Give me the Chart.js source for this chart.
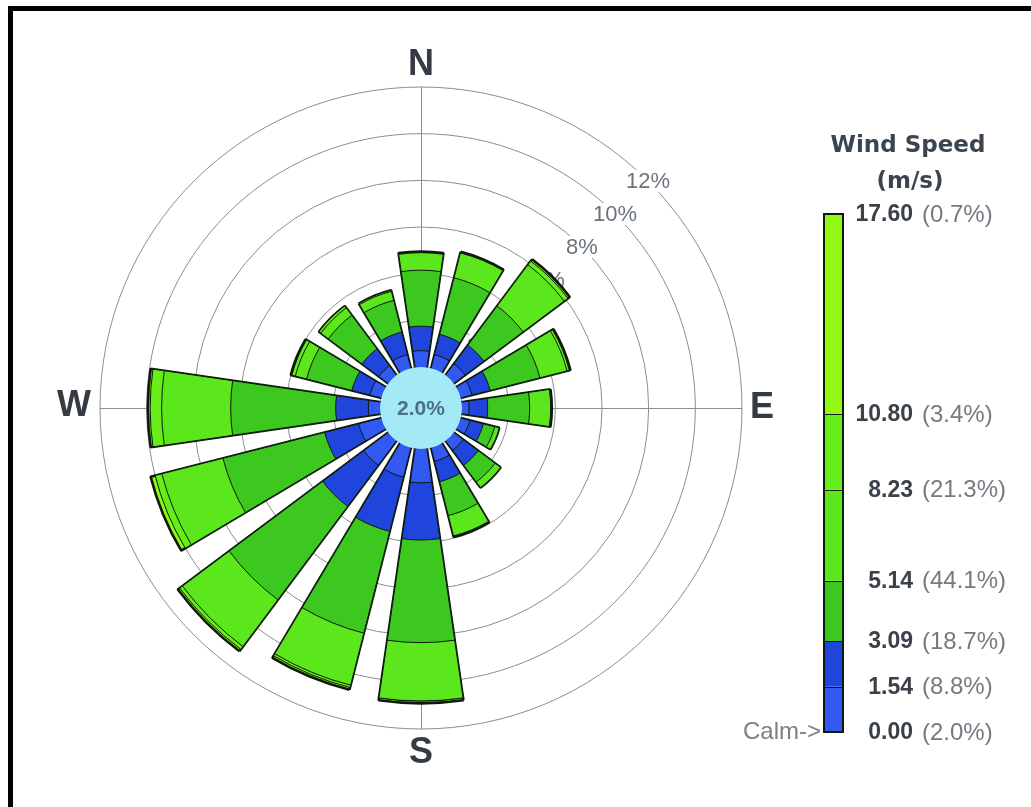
<!DOCTYPE html>
<html>
<head>
<meta charset="utf-8">
<script src="https://cdn.jsdelivr.net/npm/chart.js@4.4.1/dist/chart.umd.min.js"></script>
<style>
  html, body { margin: 0; padding: 0; background: #ffffff; }
  #wrap { position: relative; width: 1031px; height: 807px; }
  canvas { display: block; }
</style>
</head>
<body>
<div id="wrap"><canvas id="rose" width="1031" height="807"></canvas></div>
<script>
// Sixteen compass sectors, clockwise from north
const directions = ['N', 'NNE', 'NE', 'ENE', 'E', 'ESE', 'SE', 'SSE',
                    'S', 'SSW', 'SW', 'WSW', 'W', 'WNW', 'NW', 'NNW'];

// Wind-speed class edges (m/s) and the share of hours in each class
const speedEdges = [0.00, 1.54, 3.09, 5.14, 8.23, 10.80, 17.60];
const edgeLabels = ['0.00', '1.54', '3.09', '5.14', '8.23', '10.80', '17.60'];
const edgeShares = ['(2.0%)', '(8.8%)', '(18.7%)', '(44.1%)', '(21.3%)', '(3.4%)', '(0.7%)'];
const calmShare = 2.0;

// Frequency (% of hours) per direction for each speed class
const freq0to154   = [0.70, 0.60, 0.60, 0.50, 0.30, 0.40, 0.50, 0.60, 1.45, 1.30, 1.30, 1.00, 0.50, 0.50, 0.50, 0.60];
const freq154to309 = [1.05, 0.90, 1.00, 0.80, 0.80, 0.60, 0.80, 0.90, 2.45, 2.40, 2.20, 1.50, 1.40, 0.80, 0.90, 1.00];
const freq309to514 = [2.40, 2.50, 2.10, 2.20, 1.80, 0.50, 0.90, 1.50, 4.40, 4.50, 5.00, 4.50, 4.50, 2.00, 1.80, 1.40];
const freq514to823 = [0.75, 1.10, 2.20, 1.20, 0.90, 0.20, 0.30, 0.90, 2.50, 2.30, 2.50, 2.70, 2.96, 0.50, 0.40, 0.40];
const freq823to108 = [0.00, 0.00, 0.20, 0.10, 0.00, 0.00, 0.00, 0.00, 0.00, 0.10, 0.15, 0.30, 0.49, 0.15, 0.10, 0.05];
const freq108to176 = [0.05, 0.05, 0.10, 0.05, 0.05, 0.00, 0.00, 0.05, 0.10, 0.10, 0.10, 0.20, 0.10, 0.05, 0.00, 0.00];

// Percent rings
const ringTicks = [0, 2, 4, 6, 8, 10, 12];
const ringLabels = ['', '2%', '4%', '6%', '8%', '10%', '12%'];

const classFreqs = [freq0to154, freq154to309, freq309to514, freq514to823, freq823to108, freq108to176];
const classColors = ['#3259f2', '#1f45dd', '#3cc81f', '#5ce61c', '#66ee18', '#92f712'];

const SECTOR = 16.5;           // wedge width, degrees
const GAP = 360 / 16 - SECTOR; // white gap between wedges

// Each class is drawn as a wedge reaching its cumulative frequency; inner classes overlay outer ones.
const slotLabels = [];
directions.forEach(d => { slotLabels.push(d); slotLabels.push(''); });

function cumulative(level) {
  const out = [];
  directions.forEach((d, i) => {
    let s = 0;
    for (let k = 0; k <= level; k++) s += classFreqs[k][i];
    out.push(s);
    out.push(0);
  });
  return out;
}

const datasets = classColors.map((color, level) => ({
  label: edgeLabels[level] + '-' + edgeLabels[level + 1],
  data: cumulative(level),
  order: level,
  backgroundColor: ctx => (ctx.dataIndex % 2 === 0 ? color : 'rgba(0,0,0,0)'),
  borderColor: ctx => (ctx.dataIndex % 2 === 0 ? '#0d1a0d' : 'rgba(0,0,0,0)'),
  borderWidth: ctx => (ctx.dataIndex % 2 === 0 ? (level === classColors.length - 1 ? 2.6 : 1) : 0),
  angle: ctx => (ctx.dataIndex % 2 === 0 ? SECTOR : GAP)
}));

const FONT = '"Liberation Sans", Arial, sans-serif';

const roseDecor = {
  id: 'roseDecor',
  beforeDatasetsDraw(chart) {
    const s = chart.scales.r;
    const ctx = chart.ctx;
    const cx = s.xCenter, cy = s.yCenter;
    const R = s.getDistanceFromCenterForValue(s.max);
    ctx.save();
    // compass cross
    ctx.strokeStyle = '#8c8c8c';
    ctx.lineWidth = 1;
    ctx.beginPath();
    ctx.moveTo(cx - R, cy + 0.5); ctx.lineTo(cx + R, cy + 0.5);
    ctx.moveTo(cx + 0.5, cy - R); ctx.lineTo(cx + 0.5, cy + R);
    ctx.stroke();
    // ring labels along the north-east diagonal
    const a = Math.PI / 4;
    ctx.font = '22px ' + FONT;
    ctx.textAlign = 'center';
    ctx.textBaseline = 'middle';
    ringTicks.forEach((v, i) => {
      if (!ringLabels[i]) return;
      const r = s.getDistanceFromCenterForValue(v);
      const x = cx + r * Math.sin(a), y = cy - r * Math.cos(a);
      const w = ctx.measureText(ringLabels[i]).width;
      ctx.fillStyle = '#ffffff';
      ctx.fillRect(x - w / 2 - 2, y - 11, w + 4, 22);
      ctx.fillStyle = '#6b737b';
      ctx.fillText(ringLabels[i], x, y + 1);
    });
    ctx.restore();
  },
  afterDatasetsDraw(chart) {
    const s = chart.scales.r;
    const ctx = chart.ctx;
    const cx = s.xCenter, cy = s.yCenter;
    const R = s.getDistanceFromCenterForValue(s.max);
    const r0 = s.getDistanceFromCenterForValue(0);
    ctx.save();
    // calm circle
    ctx.beginPath();
    ctx.arc(cx, cy, r0, 0, Math.PI * 2);
    ctx.fillStyle = '#a3eaf6';
    ctx.fill();
    ctx.fillStyle = '#4b7083';
    ctx.font = 'bold 21px ' + FONT;
    ctx.textAlign = 'center';
    ctx.textBaseline = 'middle';
    ctx.fillText(calmShare.toFixed(1) + '%', cx, cy + 1);
    // compass letters
    ctx.fillStyle = '#353b42';
    ctx.font = 'bold 36px ' + FONT;
    const off = R + 23;
    ctx.fillText('N', cx, cy - off + 1);
    ctx.fillText('S', cx, cy + off + 1);
    ctx.fillText('E', cx + off - 3, cy);
    ctx.fillText('W', cx - off - 3, cy - 2);

    // colour bar legend
    const barL = 824, barW = 19, barTop = 214, barBot = 732;
    const pxPer = (barBot - barTop) / speedEdges[speedEdges.length - 1];
    const yOf = v => barBot - v * pxPer;
    for (let k = 0; k < classColors.length; k++) {
      ctx.fillStyle = classColors[k];
      ctx.fillRect(barL, yOf(speedEdges[k + 1]), barW, yOf(speedEdges[k]) - yOf(speedEdges[k + 1]));
    }
    ctx.strokeStyle = '#0d1a0d';
    ctx.lineWidth = 1;
    for (let k = 1; k < speedEdges.length - 1; k++) {
      ctx.beginPath();
      ctx.moveTo(barL, Math.round(yOf(speedEdges[k])) + 0.5);
      ctx.lineTo(barL + barW, Math.round(yOf(speedEdges[k])) + 0.5);
      ctx.stroke();
    }
    ctx.lineWidth = 2;
    ctx.strokeRect(barL, barTop, barW, barBot - barTop);

    ctx.textBaseline = 'middle';
    edgeLabels.forEach((lab, k) => {
      const y = yOf(speedEdges[k]);
      ctx.textAlign = 'right';
      ctx.fillStyle = '#3a4148';
      ctx.font = 'bold 23px ' + FONT;
      ctx.fillText(lab, 913, y + 1);
      ctx.textAlign = 'left';
      ctx.fillStyle = '#737a80';
      ctx.font = '24px ' + FONT;
      ctx.fillText(edgeShares[k], 922, y + 1);
    });
    ctx.textAlign = 'right';
    ctx.fillStyle = '#7a8086';
    ctx.font = '24px ' + FONT;
    ctx.fillText('Calm->', 821, barBot);

    ctx.textAlign = 'center';
    ctx.textBaseline = 'alphabetic';
    ctx.fillStyle = '#3a4550';
    ctx.font = 'bold 23px "DejaVu Sans", Verdana, sans-serif';
    ctx.fillText('Wind Speed', 908, 152);
    ctx.fillText('(m/s)', 910, 188);

    // frame
    ctx.fillStyle = '#000000';
    ctx.fillRect(8, 6, 1031 - 8, 5);
    ctx.fillRect(8, 6, 5, 807 - 6);
    ctx.restore();
  }
};

new Chart(document.getElementById('rose'), {
  type: 'polarArea',
  data: { labels: slotLabels, datasets },
  options: {
    responsive: false,
    animation: false,
    layout: { padding: { left: 100, right: 288, top: 86, bottom: 77 } },
    plugins: { legend: { display: false }, tooltip: { enabled: false } },
    scales: {
      r: {
        min: -1.757,
        max: 12,
        startAngle: -SECTOR / 2,
        angleLines: { display: false },
        pointLabels: { display: false },
        grid: { circular: true, color: '#8c8c8c', lineWidth: 1 },
        ticks: { display: false },
        afterBuildTicks: scale => { scale.ticks = ringTicks.map(v => ({ value: v })); }
      }
    }
  },
  plugins: [roseDecor]
});
</script>
</body>
</html>
